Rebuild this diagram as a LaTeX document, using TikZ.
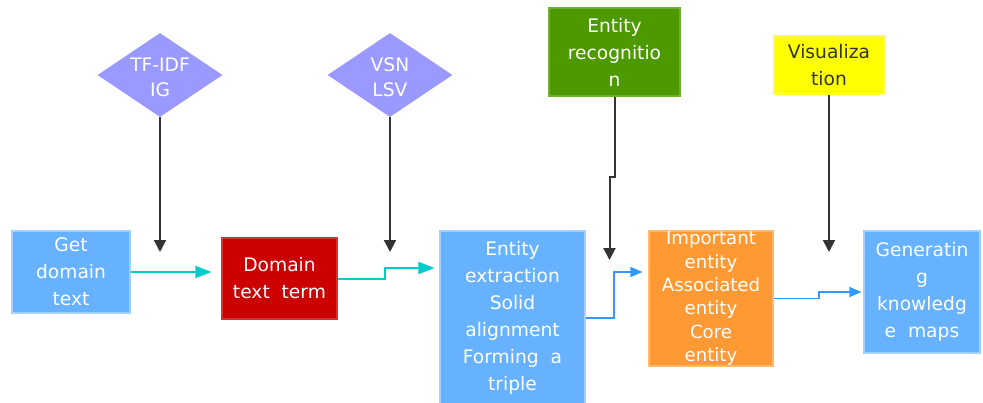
\documentclass[tikz,border=0pt]{standalone}
\usepackage{fontspec}
\setmainfont{DejaVu Sans}
\usetikzlibrary{arrows.meta,shapes.geometric}
\definecolor{cblue}{HTML}{66B2FF}
\definecolor{cred}{HTML}{CC0000}
\definecolor{corange}{HTML}{FF9933}
\definecolor{cgreen}{HTML}{4C9900}
\definecolor{cyel}{HTML}{FFFF00}
\definecolor{cdia}{HTML}{9999FF}
\definecolor{ccyan}{HTML}{00CCCC}
\definecolor{carrow}{HTML}{3399FF}
\definecolor{cdark}{HTML}{333333}
\begin{document}
\begin{tikzpicture}[x=0.75pt,y=-0.75pt,
  box/.style 2 args={rectangle, minimum width=#1*0.75pt, minimum height=#2*0.75pt,
    inner sep=0pt, align=center, text=white, line width=0.8pt,
    font=\fontsize{14pt}{20.25pt}\selectfont},
  dia/.style={diamond, fill=cdia, minimum width=93.75pt, minimum height=63pt, inner sep=0pt},
  dtext/.style={align=center, text=white, inner sep=0pt, font=\fontsize{14pt}{19pt}\selectfont},
  dk/.style={draw=cdark, line width=1.5pt, -{Triangle[length=9pt,width=9pt]}},
  cy/.style={draw=ccyan, line width=1.5pt, -{Triangle[length=12pt,width=9pt]}},
  bl/.style={draw=carrow, line width=1.1pt, -{Triangle[length=9pt,width=7.5pt]}}
]
\useasboundingbox (0,0) rectangle (983,403);
% top inputs
\node[dia] (tf) at (160,75) {};
\node[dtext] (tft) at (160,77) {TF-IDF\\IG};
\node[dia] (vs) at (390,75) {};
\node[dtext] (vst) at (390,77) {VSN\\LSV};
\node[box={131}{88}, fill=cgreen, draw=cgreen!80!white] (er) at (614.5,52) {Entity\\recognitio\\n};
\node[box={110}{58}, fill=cyel, draw=cyel!70!white, text=cdark] (vz) at (829,65) {Visualiza\\tion};
% main chain
\node[box={118}{82}, fill=cblue, draw=cblue!60!white] (gdt) at (71,272) {Get\\domain\\text};
\node[box={115}{81}, fill=cred, draw=cred!80!white] (dtt) at (279.5,278.5) {Domain\\text~ term};
\node[box={145}{174}, fill=cblue, draw=cblue!60!white] (ext) at (512.5,318) {Entity\\extraction\\Solid\\alignment\\Forming~ a\\triple};
\node[box={124}{135}, fill=corange, draw=corange!70!white, font=\fontsize{13.6pt}{17.5pt}\selectfont] (imp) at (711,298.5) {Important\\entity\\Associated\\entity\\Core\\entity};
\node[box={116}{122}, fill=cblue, draw=cblue!60!white] (gen) at (922,292) {Generatin\\g\\knowledg\\e~ maps};
% dark arrows
\coordinate (a1) at (160,252);
\draw[dk] (tf.south) -- (a1);
\coordinate (a2) at (390,252);
\draw[dk] (vs.south) -- (a2);
\coordinate (j1) at (614.5,177);
\coordinate (a3) at (609.5,260);
\draw[dk] (er.south) -- (j1) -| (a3);
\coordinate (a4) at (829,252);
\draw[dk] (vz.south) -- (a4);
% flow arrows
\draw[cy, shorten >=7.5pt] (gdt.east) -- (gdt.east -| dtt.west);
\coordinate (s1) at (385,268);
\draw[cy, shorten >=3.75pt] (dtt.east) -| (s1) -- (s1 -| ext.west);
\coordinate (s2) at (614,272);
\draw[bl, shorten >=4.5pt] (ext.east) -| (s2) -- (s2 -| imp.west);
\coordinate (s3) at (819,292);
\draw[bl, shorten >=1.5pt] (imp.east) -| (s3) -- (s3 -| gen.west);
\end{tikzpicture}
\end{document}
